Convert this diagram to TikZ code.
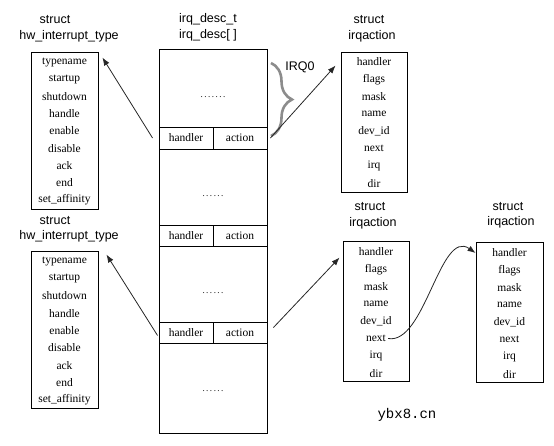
\documentclass[tikz,border=0pt]{standalone}
\usepackage{fontspec}
\setmainfont{Liberation Serif}
\setsansfont{Liberation Sans}
\setmonofont{Liberation Mono}
\usetikzlibrary{arrows.meta,decorations.pathreplacing}
\tikzset{
  box/.style={draw=black,line width=0.9pt,inner sep=0pt},
  cell/.style={draw=black,line width=0.9pt,inner sep=0pt,minimum width=54pt,minimum height=22pt,font=\fontsize{11.5}{12}\selectfont},
  item/.style={inner sep=0pt,font=\fontsize{11.5}{12}\selectfont},
  title/.style={inner sep=0pt,font=\sffamily\fontsize{12.5}{14}\selectfont},
  dotsn/.style={inner sep=0pt,font=\fontsize{9}{10}\selectfont},
  arr/.style={draw=black!85,line width=0.8pt,-{Latex[length=8pt,width=6pt]}},
  bracestyle/.style={draw=black!45,line width=2.6pt,decorate,decoration={brace,amplitude=21pt}}
}
\begin{document}
\begin{tikzpicture}[x=1pt,y=-1pt]
\useasboundingbox (0,0) rectangle (554,445);
% titles
\node[title] (t1a) at (55,20) {struct};
\node[title] (t1b) at (69,36) {hw\_interrupt\_type};
\node[title] (t2a) at (55,221) {struct};
\node[title] (t2b) at (69,236) {hw\_interrupt\_type};
\node[title] (tma) at (208,19) {irq\_desc\_t};
\node[title] (tmb) at (208,35) {irq\_desc[ ]};
\node[title] (t3a) at (369,20) {struct};
\node[title] (t3b) at (372,36) {irqaction};
\node[title] (t4a) at (370,207) {struct};
\node[title] (t4b) at (373,223) {irqaction};
\node[title] (t5a) at (508,207) {struct};
\node[title] (t5b) at (511,222) {irqaction};
% hw_interrupt_type boxes
\node[box,minimum width=67pt,minimum height=157pt] (hwa) at (64.5,130.5) {};
\node[box,minimum width=67pt,minimum height=157pt] (hwb) at (64.5,329.5) {};
\foreach \t [count=\i from 0] in {typename,startup,shutdown,handle,enable,disable,ack,end,set\_affinity}{
  \node[item] (hwa\i) at (64.5,62+17.25*\i) {\t};
  \node[item] (hwb\i) at (64.5,261+17.375*\i) {\t};
}
% irq_desc array
\node[box,minimum width=108pt,minimum height=384pt] (desc) at (213,241) {};
\node[cell] (h1) at (186,138) {handler};
\node[cell] (a1) at (240,138) {action};
\node[cell,minimum height=21pt] (h2) at (186,235.5) {handler};
\node[cell,minimum height=21pt] (a2) at (240,235.5) {action};
\node[cell,minimum height=21pt] (h3) at (186,332.5) {handler};
\node[cell,minimum height=21pt] (a3) at (240,332.5) {action};
\node[dotsn] (d1) at (213,97) {.\,.\,.\,.\,.\,.\,.};
\node[dotsn] (d2) at (213,196) {.\,.\,.\,.\,.\,.};
\node[dotsn] (d3) at (213,293) {.\,.\,.\,.\,.\,.};
\node[dotsn] (d4) at (213,391) {.\,.\,.\,.\,.\,.};
% irqaction boxes
\node[box,minimum width=66pt,minimum height=140pt] (ia) at (374,122) {};
\node[box,minimum width=66pt,minimum height=140pt] (ib) at (376,311) {};
\node[box,minimum width=67pt,minimum height=140pt] (ic) at (509.5,312) {};
\foreach \t [count=\i from 0] in {handler,flags,mask,name,dev\_id,next,irq,dir}{
  \node[item] (ia\i) at (374,62+17.3*\i) {\t};
  \node[item] (ib\i) at (376,252+17.3*\i) {\t};
  \node[item] (ic\i) at (509.5,253+17.3*\i) {\t};
}
% IRQ0 brace
\coordinate (bt) at (271,63);
\coordinate (bb) at (271,136);
\draw[bracestyle] (bt) -- (bb);
\node[title] (irq0) at (300,67) {IRQ0};
% arrows
\draw[arr] ([xshift=-6pt]h1.west) -- ([xshift=4pt,yshift=-6pt]hwa.north east);
\draw[arr] ([xshift=-1pt,yshift=-3pt]h3.west) -- ([xshift=8pt,yshift=-4pt]hwb.north east);
\draw[arr] ([xshift=3pt]a1.east) -- ([xshift=-5pt,yshift=-14pt]ia.north west);
\draw[arr] ([xshift=6pt,yshift=5pt]a3.east) -- ([xshift=-3pt,yshift=-17pt]ib.north west);
\draw[arr] ([xshift=2pt]ib5.east) .. controls (425,345) and (440,228) .. (ic.west |- ic0);
% watermark
\node[inner sep=0pt,font=\ttfamily\fontsize{14}{16}\selectfont] (wm) at (407,415) {ybx8.cn};
\end{tikzpicture}
\end{document}
